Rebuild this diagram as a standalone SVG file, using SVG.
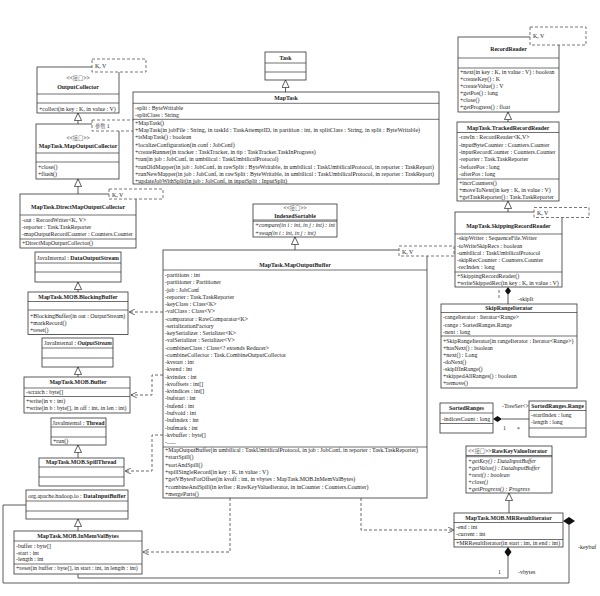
<svg xmlns="http://www.w3.org/2000/svg" width="600" height="596" viewBox="0 0 600 596">
<defs>
<style>
.box{fill:#fff;stroke:#333;stroke-width:0.8}
.tpl{fill:#fff;stroke:#555;stroke-width:0.8;stroke-dasharray:3,2}
.dv{stroke:#333;stroke-width:0.7}
.ln{fill:none;stroke:#333;stroke-width:0.8}
.dl{fill:none;stroke:#444;stroke-width:0.8;stroke-dasharray:3,2}
text{font-family:"Liberation Serif","Noto Sans CJK SC",serif;font-size:5.9px;fill:#222}
.b{font-weight:bold}
.i{font-style:italic}
.c{text-anchor:middle}
.cj{font-family:"Noto Sans CJK SC",sans-serif;font-weight:300;font-size:5.2px}
</style>
<marker id="tri" viewBox="0 0 10 10" refX="10" refY="5" markerWidth="8" markerHeight="8" markerUnits="userSpaceOnUse" orient="auto"><path d="M0.5,0.5 L10,5 L0.5,9.5 z" fill="#fff" stroke="#333" stroke-width="1"/></marker>
<marker id="arr" viewBox="0 0 10 10" refX="10" refY="5" markerWidth="6" markerHeight="6" markerUnits="userSpaceOnUse" orient="auto"><path d="M0,0 L10,5 L0,10" fill="none" stroke="#333" stroke-width="1.2"/></marker>
</defs>
<rect x="0" y="0" width="600" height="596" fill="#fff"/>

<g id="connectors">
<path class="ln" d="M78,124 L78,113" marker-end="url(#tri)"/>
<path class="ln" d="M78,194 L78,179" marker-end="url(#tri)"/>
<path class="ln" d="M78,292 L78,282" marker-end="url(#tri)"/>
<path class="ln" d="M78,377 L78,367" marker-end="url(#tri)"/>
<path class="ln" d="M78,458 L78,445" marker-end="url(#tri)"/>
<path class="ln" d="M78,531 L78,519" marker-end="url(#tri)"/>
<path class="ln" d="M285.5,92 L285.5,80" marker-end="url(#tri)"/>
<path class="ln" d="M295,250 L295,237" marker-end="url(#tri)"/>
<path class="ln" d="M508,122 L508,112" marker-end="url(#tri)"/>
<path class="ln" d="M508,212 L508,201" marker-end="url(#tri)"/>
<path class="ln" d="M509,513 L509,493" marker-end="url(#tri)"/>
<path class="dl" d="M163,312 L129,312" marker-end="url(#arr)"/>
<path class="dl" d="M163,375 L152,375 L152,395 L131,395" marker-end="url(#arr)"/>
<path class="dl" d="M163,435 L152,435 L152,471 L125,471" marker-end="url(#arr)"/>
<path class="dl" d="M230,498 L230,552 L143,552" marker-end="url(#arr)"/>
<path class="dl" d="M361,498 L361,530 L454,530" marker-end="url(#arr)"/>
<path class="dl" d="M499,290 L499,300"/>
<path class="ln" d="M508,295 L508,304"/>
<polygon points="508,287 511,291 508,295 505,291" fill="#111"/>
<text x="518" y="301">-skipIt</text>
<path class="ln" d="M502,419 L529,419"/>
<polygon points="493,419 497.5,416 502,419 497.5,422" fill="#111"/>
<text x="502" y="408">-TreeSet&lt;&gt;</text>
<text x="503" y="430">1</text>
<text x="517" y="431">*</text>
<path class="ln" d="M569,525 L569,583 L3,583 L3,505 L26,505"/>
<polygon points="563,521 569,517 575,521 569,525" fill="#111"/>
<text x="578" y="549">-keybuf</text>
<path class="ln" d="M508,557 L508,578 L78,578 L78,574"/>
<polygon points="508,547 511.5,552 508,557 504.5,552" fill="#111"/>
<text x="498" y="574">1</text>
<text x="518" y="574">-vbytes</text>
</g>

<g id="OutputCollector">
<rect class="box" x="37" y="67" width="82" height="46"/>
<line class="dv" x1="37" y1="94" x2="119" y2="94"/>
<line class="dv" x1="37" y1="103" x2="119" y2="103"/>
<text class="c" x="78" y="80">&lt;&lt;<tspan class="cj">接口</tspan>&gt;&gt;</text>
<text class="c b" x="78" y="89">OutputCollector</text>
<text x="39" y="111">+collect(in key : K, in value : V)</text>
<rect class="tpl" x="92" y="59" width="54" height="13"/>
<text x="95" y="67.5">K, V</text>
</g>

<g id="MapOutputCollector">
<rect class="box" x="36" y="124" width="83" height="55"/>
<line class="dv" x1="36" y1="153" x2="119" y2="153"/>
<line class="dv" x1="36" y1="162" x2="119" y2="162"/>
<text class="c" x="78" y="140">&lt;&lt;<tspan class="cj">接口</tspan>&gt;&gt;</text>
<text class="c b" x="78" y="148">MapTask.MapOutputCollector</text>
<text x="38" y="169">+close()</text>
<text x="38" y="176">+flush()</text>
</g>

<g id="param1">
<rect class="tpl" x="92" y="120" width="48" height="11"/>
<text x="95" y="128"><tspan class="cj">参数</tspan> 1</text>
</g>

<g id="DirectMapOutputCollector">
<rect class="box" x="20" y="194" width="116" height="54"/>
<line class="dv" x1="20" y1="215" x2="136" y2="215"/>
<line class="dv" x1="20" y1="239" x2="136" y2="239"/>
<text class="c b" x="78" y="209">MapTask.DirectMapOutputCollector</text>
<text x="22" y="222">-out : RecordWriter&lt;K, V&gt;</text>
<text x="22" y="229">-reporter : Task.TaskReporter</text>
<text x="22" y="236">-mapOutputRecordCounter : Counters.Counter</text>
<text x="22" y="245">+DirectMapOutputCollector()</text>
<rect class="tpl" x="109" y="189" width="54" height="10"/>
<text x="112" y="196.5">K, V</text>
</g>

<g id="DataOutputStream">
<rect class="box" x="35" y="252" width="86" height="30"/>
<line class="dv" x1="35" y1="263" x2="121" y2="263"/>
<line class="dv" x1="35" y1="272" x2="121" y2="272"/>
<text class="c" x="78" y="260">JavaInternal : <tspan class="b">DataOutputStream</tspan></text>
</g>

<g id="BlockingBuffer">
<rect class="box" x="28" y="292" width="100" height="42.5"/>
<line class="dv" x1="28" y1="301.5" x2="128" y2="301.5"/>
<line class="dv" x1="28" y1="310" x2="128" y2="310"/>
<text class="c b" x="78" y="299">MapTask.MOB.BlockingBuffer</text>
<text x="30" y="317.5">+BlockingBuffer(in out : OutputStream)</text>
<text x="30" y="324.5">+markRecord()</text>
<text x="30" y="331.5">+reset()</text>
</g>

<g id="OutputStream">
<rect class="box" x="42" y="338" width="71" height="29"/>
<line class="dv" x1="42" y1="348" x2="113" y2="348"/>
<line class="dv" x1="42" y1="358" x2="113" y2="358"/>
<text class="c" x="78" y="345">JavaInternal : <tspan class="b i">OutputStream</tspan></text>
</g>

<g id="Buffer">
<rect class="box" x="24" y="377" width="106" height="36"/>
<line class="dv" x1="24" y1="388" x2="130" y2="388"/>
<line class="dv" x1="24" y1="396.5" x2="130" y2="396.5"/>
<text class="c b" x="78" y="384">MapTask.MOB.Buffer</text>
<text x="26" y="394">-scratch : byte[]</text>
<text x="26" y="403">+write(in v : int)</text>
<text x="26" y="410">+write(in b : byte[], in off : int, in len : int)</text>
</g>

<g id="Thread">
<rect class="box" x="51" y="418" width="55" height="27"/>
<line class="dv" x1="51" y1="427" x2="106" y2="427"/>
<line class="dv" x1="51" y1="437" x2="106" y2="437"/>
<text class="c" x="78.5" y="424.5">JavaInternal : <tspan class="b">Thread</tspan></text>
<text x="53" y="443">+run()</text>
</g>

<g id="SpillThread">
<rect class="box" x="39" y="458" width="85" height="28"/>
<line class="dv" x1="39" y1="467" x2="124" y2="467"/>
<line class="dv" x1="39" y1="477" x2="124" y2="477"/>
<text class="c b" x="81" y="464">MapTask.MOB.SpillThread</text>
</g>

<g id="DataInputBuffer">
<rect class="box" x="26" y="490" width="102" height="29"/>
<line class="dv" x1="26" y1="501" x2="128" y2="501"/>
<line class="dv" x1="26" y1="511" x2="128" y2="511"/>
<text class="c" x="77" y="498">org.apache.hadoop.io : <tspan class="b">DataInputBuffer</tspan></text>
</g>

<g id="InMemValBytes">
<rect class="box" x="14" y="531" width="128" height="43"/>
<line class="dv" x1="14" y1="541" x2="142" y2="541"/>
<line class="dv" x1="14" y1="564" x2="142" y2="564"/>
<text class="c b" x="78" y="538">MapTask.MOB.InMemValBytes</text>
<text x="16" y="548">-buffer : byte[]</text>
<text x="16" y="555">-start : int</text>
<text x="16" y="561">-length : int</text>
<text x="16" y="570">+reset(in buffer : byte[], in start : int, in length : int)</text>
</g>

<g id="Task">
<rect class="box" x="265" y="52" width="41" height="28"/>
<line class="dv" x1="265" y1="63" x2="306" y2="63"/>
<line class="dv" x1="265" y1="72" x2="306" y2="72"/>
<text class="c b" x="285.5" y="59.5">Task</text>
</g>

<g id="MapTask">
<rect class="box" x="133" y="92" width="306" height="92"/>
<line class="dv" x1="133" y1="103.3" x2="439" y2="103.3"/>
<line class="dv" x1="133" y1="119.3" x2="439" y2="119.3"/>
<text class="c b" x="286" y="99.7">MapTask</text>
<text x="135" y="109.7">-split : ByteWritable</text>
<text x="135" y="117">-splitClass : String</text>
<text x="135" y="124.7">+MapTask()</text>
<text x="135" y="132" textLength="285">+MapTask(in jobFile : String, in taskId : TaskAttemptID, in partition : int, in splitClass : String, in split : ByteWritable)</text>
<text x="135" y="139.3">+isMapTask() : boolean</text>
<text x="135" y="146.6">+localizeConfiguration(in conf : JobConf)</text>
<text x="135" y="153.9">+createRunner(in tracker : TaskTracker, in tip : TaskTracker.TaskInProgress)</text>
<text x="135" y="161.2">+run(in job : JobConf, in umbilical : TaskUmbilicalProtocol)</text>
<text x="135" y="168.5" textLength="299">+runOldMapper(in job : JobConf, in rawSplit : ByteWritable, in umbilical : TaskUmbilicalProtocol, in reporter : TaskReport)</text>
<text x="135" y="175.8" textLength="299">+runNewMapper(in job : JobConf, in rawSplit : ByteWritable, in umbilical : TaskUmbilicalProtocol, in reporter : TaskReport)</text>
<text x="135" y="183.1">+updateJobWithSplit(in job : JobConf, in inputSplit : InputSplit)</text>
</g>

<g id="IndexedSortable">
<rect class="box" x="253" y="204" width="84" height="33"/>
<line class="dv" x1="253" y1="220" x2="337" y2="220"/>
<line class="dv" x1="253" y1="221.2" x2="337" y2="221.2"/>
<text class="c" x="295" y="210">&lt;&lt;<tspan class="cj">接口</tspan>&gt;&gt;</text>
<text class="c b" x="295" y="218">IndexedSortable</text>
<text class="i" x="255" y="227">+compare(in i : int, in j : int) : int</text>
<text class="i" x="255" y="234.5">+swap(in i : int, in j : int)</text>
</g>

<g id="MapOutputBuffer">
<rect class="box" x="163" y="250" width="264" height="248"/>
<line class="dv" x1="163" y1="270" x2="427" y2="270"/>
<line class="dv" x1="163" y1="447" x2="427" y2="447"/>
<text class="c b" x="295" y="267">MapTask.MapOutputBuffer</text>
<text x="165" y="277">-partitions : int</text>
<text x="165" y="284.3">-partitioner : Partitioner</text>
<text x="165" y="291.5">-job : JobConf</text>
<text x="165" y="298.8">-reporter : Task.TaskReporter</text>
<text x="165" y="306">-keyClass : Class&lt;K&gt;</text>
<text x="165" y="313.3">-valClass : Class&lt;V&gt;</text>
<text x="165" y="320.6">-comparator : RawComparator&lt;K&gt;</text>
<text x="165" y="327.8">-serializationFactory</text>
<text x="165" y="335.1">-keySerializer : Serializer&lt;K&gt;</text>
<text x="165" y="342.3">-valSerializer : Serializer&lt;V&gt;</text>
<text x="165" y="349.6">-combinerClass : Class&lt;? extends Reducer&gt;</text>
<text x="165" y="356.9">-combineCollector : Task.CombineOutputCollector</text>
<text x="165" y="364.1">-kvstart : int</text>
<text x="165" y="371.4">-kvend : int</text>
<text x="165" y="378.6">-kvindex : int</text>
<text x="165" y="385.9">-kvoffsets : int[]</text>
<text x="165" y="393.2">-kvindices : int[]</text>
<text x="165" y="400.4">-bufstart : int</text>
<text x="165" y="407.7">-bufend : int</text>
<text x="165" y="414.9">-bufvoid : int</text>
<text x="165" y="422.2">-bufindex : int</text>
<text x="165" y="429.5">-bufmark : int</text>
<text x="165" y="436.7">-kvbuffer : byte[]</text>
<text x="165" y="444">-......</text>
<text x="165" y="452" textLength="253">+MapOutputBuffer(in umbilical : TaskUmbilicalProtocol, in job : JobConf, in reporter : Task.TaskReporter)</text>
<text x="165" y="459.3">+startSpill()</text>
<text x="165" y="466.6">+sortAndSpill()</text>
<text x="165" y="474">+spillSingleRecord(in key : K, in value : V)</text>
<text x="165" y="481.3">+getVBytesForOffset(in kvoff : int, in vbytes : MapTask.MOB.InMemValBytes)</text>
<text x="165" y="488.6">+combineAndSpill(in kvIter : RawKeyValueIterator, in inCounter : Counters.Counter)</text>
<text x="165" y="496">+mergeParts()</text>
<rect class="tpl" x="399" y="246" width="55" height="10"/>
<text x="402" y="253.5">K, V</text>
</g>

<g id="RecordReader">
<rect class="box" x="458" y="37" width="101" height="75"/>
<line class="dv" x1="458" y1="58" x2="559" y2="58"/>
<line class="dv" x1="458" y1="68" x2="559" y2="68"/>
<text class="c b" x="508.5" y="51">RecordReader</text>
<text x="460" y="74">+next(in key : K, in value : V) : boolean</text>
<text x="460" y="81">+createKey() : K</text>
<text x="460" y="88">+createValue() : V</text>
<text x="460" y="95">+getPos() : long</text>
<text x="460" y="102">+close()</text>
<text x="460" y="109">+getProgress() : float</text>
<rect class="tpl" x="530" y="27" width="56" height="18"/>
<text x="533" y="38">K, V</text>
</g>

<g id="TrackedRecordReader">
<rect class="box" x="457" y="122" width="102" height="79"/>
<line class="dv" x1="457" y1="132.5" x2="559" y2="132.5"/>
<line class="dv" x1="457" y1="179" x2="559" y2="179"/>
<text class="c b" x="508" y="130">MapTask.TrackedRecordReader</text>
<text x="459" y="139">-rawIn : RecordReader&lt;K,V&gt;</text>
<text x="459" y="146.5">-inputByteCounter : Counters.Counter</text>
<text x="459" y="154">-inputRecordCounter : Counters.Counter</text>
<text x="459" y="161">-reporter : Task.TaskReporter</text>
<text x="459" y="168.5">-beforePos : long</text>
<text x="459" y="176">-afterPos : long</text>
<text x="459" y="185">+incrCounters()</text>
<text x="459" y="192">+moveToNext(in key : K, in value : V)</text>
<text x="459" y="199">+getTaskReporter() : Task.TaskReporter</text>
</g>

<g id="SkippingRecordReader">
<rect class="box" x="455" y="212" width="107" height="75"/>
<line class="dv" x1="455" y1="234" x2="562" y2="234"/>
<line class="dv" x1="455" y1="272" x2="562" y2="272"/>
<text class="c b" x="508.5" y="228">MapTask.SkippingRecordReader</text>
<text x="457" y="240">-skipWriter : SequenceFile.Writer</text>
<text x="457" y="247.5">-toWriteSkipRecs : boolean</text>
<text x="457" y="255">-umbilical : TaskUmbilicalProtocol</text>
<text x="457" y="262">-skipRecCounter : Counters.Counter</text>
<text x="457" y="269">-recIndex : long</text>
<text x="457" y="278">+SkippingRecordReader()</text>
<text x="457" y="284.5">+writeSkippedRec(in key : K, in value : V)</text>
<rect class="tpl" x="534" y="207.5" width="55" height="10"/>
<text x="537" y="215">K, V</text>
</g>

<g id="SkipRangeIterator">
<rect class="box" x="441" y="304" width="136" height="84"/>
<line class="dv" x1="441" y1="312.5" x2="577" y2="312.5"/>
<line class="dv" x1="441" y1="336" x2="577" y2="336"/>
<text class="c b" x="509" y="310">SkipRangeIterator</text>
<text x="443" y="319">-rangeIterator : Iterator&lt;Range&gt;</text>
<text x="443" y="326.5">-range : SortedRanges.Range</text>
<text x="443" y="334">-next : long</text>
<text x="443" y="343">+SkipRangeIterator(in rangeIterator : Iterator&lt;Range&gt;)</text>
<text x="443" y="350">+hasNext() : boolean</text>
<text x="443" y="357">+next() : Long</text>
<text x="443" y="364">-doNext()</text>
<text x="443" y="371">-skipIfInRange()</text>
<text x="443" y="378">+skippedAllRanges() : boolean</text>
<text x="443" y="385">+remove()</text>
</g>

<g id="SortedRanges">
<rect class="box" x="440" y="403" width="53" height="30"/>
<line class="dv" x1="440" y1="413" x2="493" y2="413"/>
<line class="dv" x1="440" y1="423.5" x2="493" y2="423.5"/>
<text class="c b" x="466.5" y="410">SortedRanges</text>
<text x="442" y="421">-indicesCount : long</text>
</g>

<g id="SortedRangesRange">
<rect class="box" x="529" y="401" width="57" height="36"/>
<line class="dv" x1="529" y1="410.5" x2="586" y2="410.5"/>
<line class="dv" x1="529" y1="428" x2="586" y2="428"/>
<text class="c b" x="557.5" y="408">SortedRanges.Range</text>
<text x="531" y="417">-startIndex : long</text>
<text x="531" y="424">-length : long</text>
</g>

<g id="RawKeyValueIterator">
<rect class="box" x="466" y="446" width="86" height="47"/>
<line class="dv" x1="466" y1="455.5" x2="552" y2="455.5"/>
<line class="dv" x1="466" y1="456.7" x2="552" y2="456.7"/>
<text x="468" y="453">&lt;&lt;<tspan class="cj">接口</tspan>&gt;&gt;<tspan class="b">RawKeyValueIterator</tspan></text>
<text class="i" x="468" y="462.5">+getKey() : DataInputBuffer</text>
<text class="i" x="468" y="469.5">+getValue() : DataInputBuffer</text>
<text class="i" x="468" y="476.5">+next() : boolean</text>
<text class="i" x="468" y="483.5">+close()</text>
<text class="i" x="468" y="490.5">+getProgress() : Progress</text>
</g>

<g id="MRResultIterator">
<rect class="box" x="454" y="513" width="109" height="34"/>
<line class="dv" x1="454" y1="522.5" x2="563" y2="522.5"/>
<line class="dv" x1="454" y1="539.5" x2="563" y2="539.5"/>
<text class="c b" x="508.5" y="520">MapTask.MOB.MRResultIterator</text>
<text x="456" y="529">-end : int</text>
<text x="456" y="536">-current : int</text>
<text x="456" y="545">+MRResultIterator(in start : int, in end : int)</text>
</g>
</svg>
